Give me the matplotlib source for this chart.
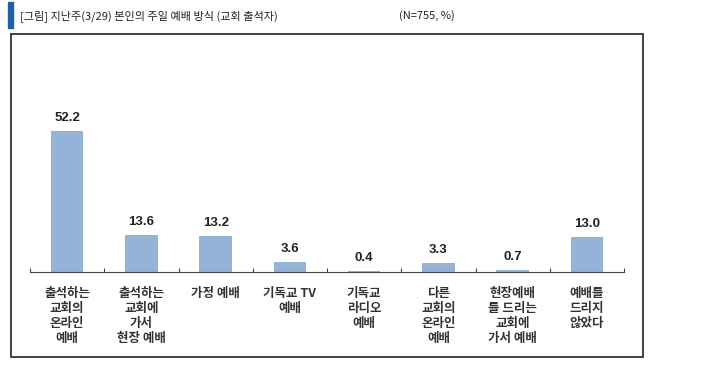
import matplotlib.pyplot as plt
from matplotlib.patches import Rectangle

plt.rcParams['font.family'] = ['Noto Sans CJK KR', 'DejaVu Sans']

# 데이터
categories = ['출석하는\n교회의\n온라인\n예배', '출석하는\n교회에\n가서\n현장 예배', '가정 예배',
              '기독교 TV\n예배', '기독교\n라디오\n예배', '다른\n교회의\n온라인\n예배',
              '현장예배\n를 드리는\n교회에\n가서 예배', '예배를\n드리지\n않았다']
values = [52.2, 13.6, 13.2, 3.6, 0.4, 3.3, 0.7, 13.0]

W, H = 728, 367
fig = plt.figure(figsize=(W / 100, H / 100), dpi=100)

# 제목 부분
fig.patches.append(Rectangle((8 / W, 1 - 28 / H), 5 / W, 26 / H, transform=fig.transFigure,
                             color='#1f5fa8', zorder=3))
fig.text(20 / W, 1 - 16 / H, '[그림] 지난주(3/29) 본인의 주일 예배 방식 (교회 출석자)',
         fontsize=8, va='center', ha='left', color='#222222')
fig.text(455 / W, 1 - 16 / H, '(N=755, %)', fontsize=8, va='center', ha='right', color='#222222')

# 테두리
fig.patches.append(Rectangle((11 / W, 10 / H), 632 / W, 323 / H, transform=fig.transFigure,
                             fill=False, edgecolor='#333333', linewidth=1.3))

ax = fig.add_axes([30 / W, 95 / H, 594 / W, 232 / H])
x = range(len(values))
bars = ax.bar(x, values, width=0.44, color='#95b3d7')
for xi, v in zip(x, values):
    ax.text(xi, v + 2.6, f'{v:.1f}', ha='center', va='bottom', fontsize=9.5,
            fontweight='bold', family=['Liberation Sans', 'DejaVu Sans'], color='#222222')

ax.set_xlim(-0.5, 7.5)
ax.set_ylim(0, 232 / 2.70)
for s in ['top', 'right', 'left']:
    ax.spines[s].set_visible(False)
ax.spines['bottom'].set_color('#444444')
ax.set_yticks([])
ax.set_xticks([i - 0.5 for i in range(9)])
ax.set_xticklabels([])
ax.tick_params(axis='x', direction='in', length=3, color='#444444')

for xi, c in zip(x, categories):
    ax.text(xi, -5.6, c, ha='center', va='top', fontsize=9, linespacing=1.2,
            color='#333333', fontweight='bold')

plt.savefig('out.png', dpi=100)
